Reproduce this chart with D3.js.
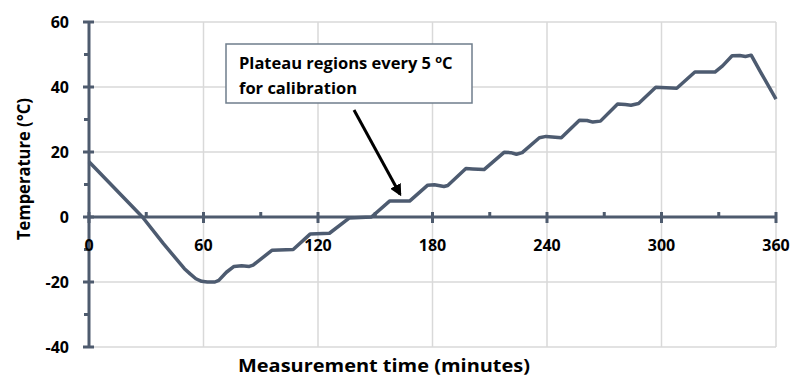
<!DOCTYPE html>
<html><head><meta charset="utf-8">
<script src="https://cdn.jsdelivr.net/npm/d3@7"></script>
<style>
html,body{margin:0;padding:0;background:#fff;}
text{font-family:"Open Sans",Lato,sans-serif;font-weight:bold;fill:#000;}
</style></head>
<body><svg id="c" width="794" height="378"></svg>
<script>
const times = [0,28,39,50,53,56,59,62,66,68,72,76,80,84,86,96,107,116,126,136.5,148,157.5,168,177.5,181,186,188,197.5,201,207,217.5,221,224,227,236,239.5,247.5,257,261,264,268,277,281,284,288,297,308,317.5,328,332,337,341,344,347,352,360];
const temps = [17,0,-8.2,-15.9,-17.5,-19,-19.8,-20,-20,-19.5,-17,-15.2,-15,-15.2,-14.8,-10.2,-10,-5.2,-5,-0.3,0,4.9,4.9,9.8,9.9,9.4,9.7,14.9,14.8,14.6,19.9,19.8,19.3,19.8,24.4,24.8,24.4,29.8,29.7,29.2,29.5,34.8,34.6,34.4,34.9,39.9,39.6,44.6,44.6,46.5,49.6,49.7,49.4,49.8,44.5,36.3];
const xTicks = [0,60,120,180,240,300,360];
const xMinor = [30,90,150,210,270,330];
const yTicks = [-40,-20,0,20,40,60];
const yMinor = [-30,-10,10,30,50];
const xTitle = "Measurement time (minutes)";
const yTitle = "Temperature (°C)";
const noteLine1 = "Plateau regions every 5 ";
const noteSup = "o";
const noteUnit = "C";
const noteLine2 = "for calibration";
const noteTarget = [163, 7]; // minutes, °C where the arrow points

const svg = d3.select("#c");
const x = d3.scaleLinear().domain([0,360]).range([89,776]);
const y = d3.scaleLinear().domain([-40,60]).range([347,22]);
const axisCol = "#4e5b6e", gridCol = "#d9d9d9";

// gridlines
svg.append("g").selectAll("line").data(yTicks.filter(d=>d!==0)).join("line")
  .attr("x1",x(0)).attr("x2",x(360)).attr("y1",d=>y(d)).attr("y2",d=>y(d))
  .attr("stroke",gridCol).attr("stroke-width",1.5);
svg.append("g").selectAll("line").data(xTicks.filter(d=>d!==0)).join("line")
  .attr("x1",d=>x(d)).attr("x2",d=>x(d)).attr("y1",y(60)).attr("y2",y(-40))
  .attr("stroke",gridCol).attr("stroke-width",1.5);

// y axis
const ya = svg.append("g");
ya.append("line").attr("x1",x(0)).attr("x2",x(0)).attr("y1",y(60)).attr("y2",y(-40))
  .attr("stroke",axisCol).attr("stroke-width",3);
ya.selectAll(".maj").data(yTicks).join("line").attr("class","maj")
  .attr("x1",x(0)-6).attr("x2",x(0)+5).attr("y1",d=>y(d)).attr("y2",d=>y(d))
  .attr("stroke",axisCol).attr("stroke-width",3);
ya.selectAll(".min").data(yMinor).join("line").attr("class","min")
  .attr("x1",x(0)-5).attr("x2",x(0)).attr("y1",d=>y(d)).attr("y2",d=>y(d))
  .attr("stroke",axisCol).attr("stroke-width",3);
ya.selectAll("text").data(yTicks).join("text")
  .attr("x",69).attr("y",d=>y(d)).attr("dy","0.35em").attr("text-anchor","end")
  .attr("font-size",16).text(d=>d);

// x axis at 0
const xa = svg.append("g");
xa.append("line").attr("x1",x(0)).attr("x2",x(360)).attr("y1",y(0)).attr("y2",y(0))
  .attr("stroke",axisCol).attr("stroke-width",3);
xa.selectAll(".maj").data(xTicks).join("line").attr("class","maj")
  .attr("x1",d=>x(d)).attr("x2",d=>x(d)).attr("y1",y(0)-5).attr("y2",y(0)+6)
  .attr("stroke",axisCol).attr("stroke-width",3);
xa.selectAll(".min").data(xMinor).join("line").attr("class","min")
  .attr("x1",d=>x(d)).attr("x2",d=>x(d)).attr("y1",y(0)-5).attr("y2",y(0))
  .attr("stroke",axisCol).attr("stroke-width",3);
xa.selectAll("text").data(xTicks).join("text")
  .attr("x",d=>x(d)).attr("y",y(0)+28).attr("dy","0.35em").attr("text-anchor","middle")
  .attr("font-size",16).text(d=>d);

// data line
const pts = times.map((t,i)=>[t,temps[i]]);
svg.append("path").datum(pts)
  .attr("d",d3.line().x(d=>x(d[0])).y(d=>y(d[1])))
  .attr("fill","none").attr("stroke","#4d5b70").attr("stroke-width",3.5)
  .attr("stroke-linejoin","round");

// titles
svg.append("text").attr("x",384).attr("y",372).attr("text-anchor","middle")
  .attr("font-size",18).attr("textLength",292).attr("lengthAdjust","spacingAndGlyphs").text(xTitle);
svg.append("text").attr("transform","translate(30,169) rotate(-90)")
  .attr("text-anchor","middle").attr("font-size",17).attr("textLength",142)
  .attr("lengthAdjust","spacingAndGlyphs").text(yTitle);

// annotation
svg.append("rect").attr("x",226).attr("y",44).attr("width",246).attr("height",59)
  .attr("fill","#fff").attr("stroke","#6f7d8c").attr("stroke-width",1.5);
const t1 = svg.append("text").attr("x",239).attr("y",69).attr("font-size",16.5);
t1.append("tspan").text(noteLine1);
t1.append("tspan").attr("font-size",11).attr("dy",-6).text(noteSup);
t1.append("tspan").attr("dy",6).text(noteUnit);
svg.append("text").attr("x",239).attr("y",94).attr("font-size",16.5).text(noteLine2);

const defs = svg.append("defs");
defs.append("marker").attr("id","ah").attr("viewBox","0 0 10 10").attr("refX",8).attr("refY",5)
  .attr("markerWidth",4).attr("markerHeight",4).attr("orient","auto")
  .append("path").attr("d","M0,0 L10,5 L0,10 z").attr("fill","#000");
svg.append("line").attr("x1",354).attr("y1",110)
  .attr("x2",x(noteTarget[0])).attr("y2",y(noteTarget[1]))
  .attr("stroke","#000").attr("stroke-width",3).attr("marker-end","url(#ah)");
</script></body></html>
